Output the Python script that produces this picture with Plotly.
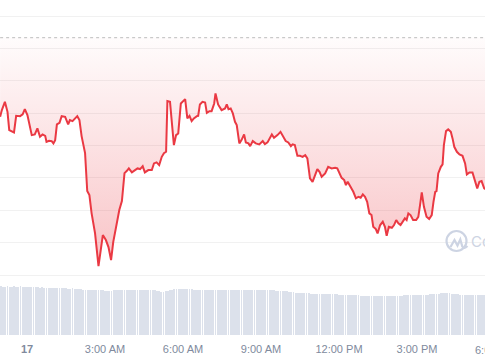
import pandas as pd
import plotly.graph_objects as go

base_day = pd.Timestamp("2024-03-17 00:00")

# Price series: minutes from midnight of the 17th, and price values
price_minutes = [-62,-58,-51,-45,-41,-35,-30,-25,-16,-10,-5,1,11,18,24,30,36,42,45,51,57,61,65,69,75,80,88,95,99,105,111,116,121,126,134,139,144,149,157,165,175,182,188,194,199,207,213,219,225,230,235,242,249,255,261,267,272,280,288,293,299,305,311,316,321,324,330,335,339,344,349,355,361,365,370,375,380,385,392,395,399,405,411,415,421,426,432,435,441,449,457,461,465,470,475,480,484,490,495,501,505,511,515,521,528,536,544,549,555,565,570,578,585,591,597,603,609,613,618,624,630,636,642,647,653,659,665,670,675,680,688,695,703,711,716,721,726,732,736,740,747,753,759,765,770,775,780,785,790,795,799,805,809,815,821,826,830,835,842,847,852,857,862,868,872,876,880,885,891,898,903,907,911,916,922,928,934,938,942,945,949,955,959,962,967,972,978,982,986,992,998,1005,1011,1015,1021,1028,1034,1039,1044,1049,1055,1062]

prices = [4.886,5.093,5.349,5.040,4.475,4.423,4.404,4.917,4.907,4.960,5.123,4.938,4.321,4.343,4.528,4.269,4.343,4.299,4.114,4.145,4.136,4.065,4.167,4.651,4.701,4.907,4.886,4.651,4.784,4.753,4.836,4.907,4.784,4.290,3.765,2.593,2.469,1.914,1.296,0.278,1.235,1.080,0.864,0.463,1.019,1.636,2.006,2.284,3.148,3.210,3.293,3.170,3.241,3.293,3.272,3.364,3.170,3.241,3.241,3.447,3.478,3.395,3.651,3.765,3.806,5.370,5.349,4.528,4.012,4.321,4.373,5.299,5.401,5.432,4.836,4.917,4.753,4.836,4.907,4.917,5.268,5.349,5.330,5.009,5.062,5.062,5.299,5.608,5.268,5.093,5.145,5.268,5.123,5.145,4.991,4.731,4.630,4.065,4.167,4.343,4.096,4.065,3.981,4.136,4.065,4.034,4.136,4.043,4.096,4.343,4.238,4.321,4.423,4.269,4.136,4.096,3.981,4.034,4.012,3.682,3.682,3.651,3.704,3.602,2.985,2.880,3.086,3.272,3.188,3.034,3.139,3.343,3.293,3.312,3.293,3.139,3.003,2.932,2.778,2.880,2.725,2.571,2.367,2.417,2.386,2.491,2.417,2.262,1.904,1.852,1.491,1.420,1.287,1.543,1.645,1.491,1.213,1.491,1.460,1.543,1.698,1.596,1.543,1.645,1.750,1.698,1.904,1.852,1.698,1.698,1.799,2.160,2.552,2.108,1.799,1.728,1.852,2.262,2.571,2.593,3.139,3.343,3.417,4.012,4.444,4.497,4.423,4.219,3.960,3.806,3.725,3.682,3.447,3.108,3.170,3.170,2.932,2.676,2.880,2.901,2.676,2.623]

baseline_price = 7.33  # opening price (dotted reference line)

# Volume bars every 5 minutes starting at -65 min
volume_start_minute = -65
volume_step_minutes = 5
volumes = [
    1.01,1.02,1.01,1.01,1.02,1.01,1.01,1.02,1.01,1.01,1.02,1.01,1.01,
    1.01,1.00,1.01,1.00,1.00,1.00,0.99,1.00,0.99,0.99,0.99,0.99,
    0.99,0.99,0.98,0.99,0.98,0.98,0.98,0.97,0.97,0.98,0.97,0.97,
    0.96,0.96,0.95,0.95,0.94,0.94,0.94,0.93,0.94,0.93,0.93,0.93,
    0.92,0.92,0.92,0.92,0.93,0.93,0.93,0.94,0.94,0.95,0.95,0.95,
    0.95,0.95,0.95,0.94,0.94,0.94,0.94,0.94,0.94,0.93,0.93,0.93,
    0.92,0.91,0.90,0.90,0.91,0.92,0.94,0.95,0.96,0.96,0.96,0.96,
    0.96,0.96,0.96,0.96,0.96,0.95,0.95,0.95,0.95,0.94,0.94,0.94,
    0.94,0.93,0.93,0.93,0.93,0.93,0.93,0.93,0.93,0.93,0.93,0.93,
    0.93,0.93,0.93,0.93,0.93,0.93,0.93,0.93,0.93,0.93,0.93,0.93,
    0.93,0.93,0.93,0.93,0.93,0.93,0.93,0.92,0.92,0.92,0.92,0.92,
    0.91,0.90,0.89,0.89,0.88,0.88,0.88,0.87,0.87,0.87,0.87,0.86,
    0.86,0.86,0.86,0.86,0.86,0.86,0.85,0.85,0.85,0.85,0.85,0.85,
    0.84,0.84,0.84,0.84,0.83,0.83,0.83,0.83,0.83,0.83,0.82,0.82,
    0.82,0.82,0.82,0.82,0.82,0.82,0.82,0.82,0.82,0.82,0.82,0.82,
    0.82,0.82,0.82,0.82,0.82,0.82,0.83,0.83,0.83,0.83,0.83,0.83,
    0.84,0.84,0.84,0.84,0.84,0.84,0.85,0.85,0.85,0.86,0.86,0.87,
    0.87,0.87,0.87,0.87,0.86,0.86,0.85,0.85,0.84,0.84,0.84,0.84,
    0.84,0.84,0.84,0.84,0.84,0.84,0.84,0.84,0.84,
]

tick_hours = [0, 3, 6, 9, 12, 15]
tick_labels = ["<b>17</b>", "3:00 AM", "6:00 AM", "9:00 AM", "12:00 PM", "3:00 PM"]
edge_label = "6:00 PM"   # next tick, cut by the right edge
price_gridlines = [0, 1, 2, 3, 4, 5, 6, 7, 8]

RED = "#ea3943"
WATERMARK = "#cdd4e3"
PLOT_W, PLOT_H = 485, 335


def px(x, y):
    """pixel position inside plot area -> paper coords (for decorations only)"""
    return x / PLOT_W, (PLOT_H - y) / PLOT_H


n = min(len(price_minutes), len(prices))
price_times = [base_day + pd.Timedelta(minutes=m) for m in price_minutes[:n]]
vol_times = [base_day + pd.Timedelta(minutes=volume_start_minute + i * volume_step_minutes)
             for i in range(len(volumes))]

fig = go.Figure()

fig.add_trace(go.Bar(
    x=vol_times, y=volumes, yaxis="y2",
    marker=dict(color="#dce1eb", line=dict(width=0)),
    width=0.38 * volume_step_minutes * 60 * 1000,
    hoverinfo="skip", showlegend=False,
))

fig.add_trace(go.Scatter(
    x=[price_times[0], price_times[-1]], y=[baseline_price, baseline_price],
    mode="lines", line=dict(color="#bdbdbd", width=1, dash="dot"),
    hoverinfo="skip", showlegend=False,
))

fig.add_trace(go.Scatter(
    x=price_times, y=prices[:n], mode="lines",
    line=dict(color=RED, width=2),
    fill="tonexty",
    fillgradient=dict(
        type="vertical",
        start=min(prices[:n]), stop=baseline_price,
        colorscale=[[0, "rgba(234,57,67,0.30)"], [1, "rgba(234,57,67,0.015)"]],
    ),
    showlegend=False,
))

# CoinMarketCap-style watermark (logo ring + wave + word mark)
cx0, cy0 = px(446.5, 251)
cx1, cy1 = px(466.5, 231)
fig.add_shape(type="circle", xref="paper", yref="paper",
              x0=cx0, x1=cx1, y0=cy0, y1=cy1,
              line=dict(color=WATERMARK, width=2.2))
wave_pts = [(450.5, 247), (454.5, 240), (457.5, 245.5), (460.3, 239.5), (462.3, 246.5)]
path = "M " + " L ".join("%.5f,%.5f" % px(*p) for p in wave_pts)
qc = px(464, 249.5)
qe = px(467.5, 246)
path += " Q %.5f,%.5f %.5f,%.5f" % (qc[0], qc[1], qe[0], qe[1])
fig.add_shape(type="path", xref="paper", yref="paper", path=path,
              line=dict(color=WATERMARK, width=2.2))
tx, ty = px(469, 241.5)
fig.add_annotation(text="CoinMarketCap", xref="paper", yref="paper",
                   x=tx, y=ty, xanchor="left", yanchor="middle",
                   showarrow=False, font=dict(family="Inter, Liberation Sans, Arial", size=15, color=WATERMARK))

# tick label just past the right edge
ex, ey = px(496, 349.5)
fig.add_annotation(text=edge_label, xref="paper", yref="paper", x=ex, y=ey,
                   xanchor="center", yanchor="middle", showarrow=False,
                   font=dict(family="Liberation Sans, Arial", size=11, color="#808a9d"))

x0 = base_day + pd.Timedelta(minutes=-62.3)
x1 = base_day + pd.Timedelta(minutes=1056.9)

fig.update_layout(
    width=485, height=360,
    margin=dict(l=0, r=0, t=0, b=25),
    paper_bgcolor="white", plot_bgcolor="white",
    bargap=0,
    xaxis=dict(
        range=[x0, x1], showgrid=False, zeroline=False, showline=False, ticks="",
        tickvals=[base_day + pd.Timedelta(hours=h) for h in tick_hours],
        ticktext=tick_labels,
        tickfont=dict(family="Liberation Sans, Arial", size=11, color="#808a9d"),
        ticklabelstandoff=6,
    ),
    yaxis=dict(
        range=[-1.852, 8.494], tickvals=price_gridlines, showticklabels=False,
        showgrid=True, gridcolor="#f1f1f1", gridwidth=1, zeroline=False, showline=False,
        fixedrange=True,
    ),
    yaxis2=dict(
        range=[0, 7], overlaying="y", visible=False, showgrid=False, fixedrange=True,
    ),
)

fig.write_html("out.html")
